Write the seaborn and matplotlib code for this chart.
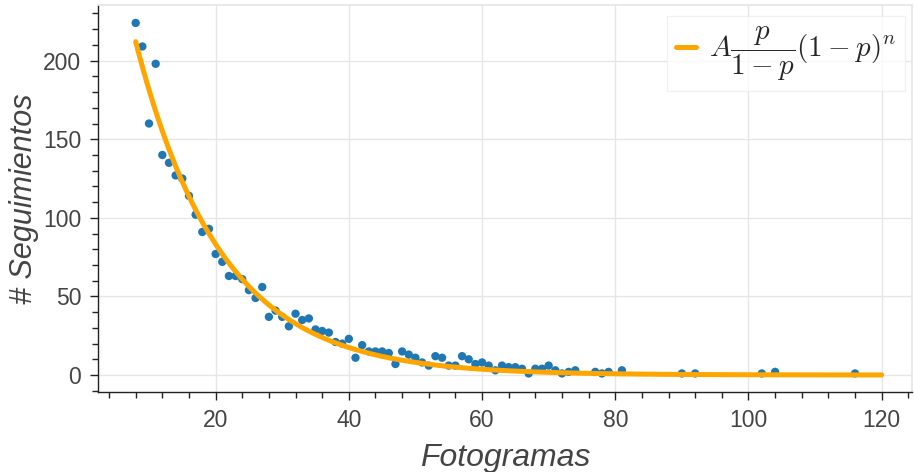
import numpy as np
import pandas as pd
import matplotlib
matplotlib.use("Agg")
import matplotlib.pyplot as plt
from matplotlib.ticker import MultipleLocator
import seaborn as sns

# Observed track lengths (frames) and how many tracks had each length
frames = [8, 9, 10, 11, 12, 13, 14, 15, 16, 17, 18, 19, 20, 21, 22, 23, 24, 25,
          26, 27, 28, 29, 30, 31, 32, 33, 34, 35, 36, 37, 38, 39, 40, 41, 42, 43,
          44, 45, 46, 47, 48, 49, 50, 51, 52, 53, 54, 55, 56, 57, 58, 59, 60, 61,
          62, 63, 64, 65, 66, 67, 68, 69, 70, 71, 72, 73, 74, 77, 78, 79, 81, 90,
          92, 102, 104, 116]
counts = [224, 209, 160, 198, 140, 135, 127, 125, 114, 102, 91, 93, 77, 72, 63,
          63, 61, 54, 49, 56, 37, 41, 37, 31, 39, 35, 36, 29, 28, 27, 21, 20, 23,
          11, 19, 15, 15, 15, 14, 7, 15, 13, 11, 8, 6, 12, 11, 6, 6, 12, 10, 7, 8,
          6, 3, 6, 5, 5, 4, 1, 4, 4, 6, 3, 1, 2, 3, 2, 1, 2, 3, 1, 1, 1, 2, 1]

# Fitted geometric model A * p/(1-p) * (1-p)^n
fit_A = 4880.0
fit_p = 0.075
fit_range = (8, 120)

obs = pd.DataFrame({"Fotogramas": frames, "Seguimientos": counts})
n_fit = np.linspace(fit_range[0], fit_range[1], 400)
fit = pd.DataFrame({
    "Fotogramas": n_fit,
    "Seguimientos": fit_A * fit_p / (1 - fit_p) * (1 - fit_p) ** n_fit,
})

sns.set_theme(style="white")
plt.rcParams["font.family"] = ["Liberation Sans", "DejaVu Sans"]
plt.rcParams["mathtext.fontset"] = "cm"

fig = plt.figure(figsize=(9.14, 4.72), dpi=100)
ax = fig.add_axes([0.1072, 0.1695, 0.8906, 0.8199])

grid_c = "#e6e6e6"
ax.grid(True, which="major", color=grid_c, linewidth=1.0)
ax.set_axisbelow(True)

sns.scatterplot(data=obs, x="Fotogramas", y="Seguimientos", ax=ax,
                color="#1f77b4", s=36, edgecolor="none", zorder=3)
sns.lineplot(data=fit, x="Fotogramas", y="Seguimientos", ax=ax,
             color="#FFA500", linewidth=3.6, zorder=4,
             label=r"$A\dfrac{p}{1-p}(1-p)^n$")

ax.set_xlim(2.34, 124.55)
ax.set_ylim(-10.8, 235.4)

ax.xaxis.set_major_locator(MultipleLocator(20))
ax.xaxis.set_minor_locator(MultipleLocator(4))
ax.yaxis.set_major_locator(MultipleLocator(50))
ax.yaxis.set_minor_locator(MultipleLocator(10))

ax.tick_params(which="major", direction="out", length=6, width=1.0,
               color="#222222", labelsize=16.5, labelcolor="#444444", pad=6,
               bottom=True, left=True)
ax.tick_params(which="minor", direction="out", length=4, width=1.0,
               color="#222222", bottom=True, left=True)

for side in ("left", "bottom"):
    ax.spines[side].set_color("#222222")
    ax.spines[side].set_linewidth(1.0)
ax.spines["top"].set_color(grid_c)
ax.spines["right"].set_color(grid_c)

ax.set_xlabel("Fotogramas", fontsize=23, style="italic", color="#444444", labelpad=8)
ax.set_ylabel("# Seguimientos", fontsize=22, style="italic", color="#444444", labelpad=3)

leg = ax.legend(loc="upper right", bbox_to_anchor=(0.992, 0.972), fontsize=21,
                frameon=True, fancybox=False, handlelength=0.7, handletextpad=0.45,
                borderpad=0.3, borderaxespad=0.0)
leg.get_frame().set_edgecolor("#eeeeee")
leg.get_frame().set_linewidth(1.0)
for line in leg.get_lines():
    line.set_linewidth(3.6)

fig.savefig("out.png", dpi=100, facecolor="white")
